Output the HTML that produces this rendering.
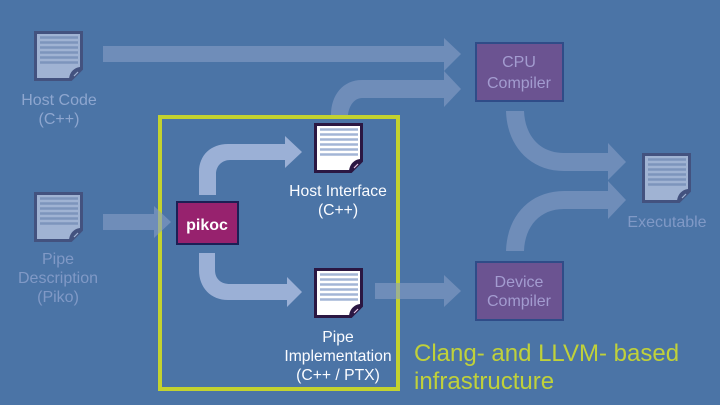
<!DOCTYPE html>
<html><head><meta charset="utf-8"><style>
html,body{margin:0;padding:0;background:#4b74a6;width:720px;height:405px;overflow:hidden}
svg{display:block}
text{font-family:"Liberation Sans",sans-serif;font-size:16px;text-anchor:middle}
.d{fill:#8ea6cf}.e{fill:#8099c6}.w{fill:#fbfcff;font-size:15.700px}.c{fill:#a39cd0}
</style></head><body>
<svg width="720" height="405" viewBox="0 0 720 405" xmlns="http://www.w3.org/2000/svg">
<defs>
<path id="lines" d="M6 6.500h38M6 11.500h38M6 16.500h38M6 21.500h38M6 26.500h38M6 31.500h38" stroke-width="2.600" fill="none"/>
</defs>
<rect width="720" height="405" fill="#4b74a6"/>

<!-- muted arrows -->
<g fill="#6f8db9">
<path d="M103 46H444V38L461 54L444 71V62H103Z"/>
<path d="M331 115C331 95 343 80 362 80H444V71L461 89L444 107V98H362C355 98 349 105 348 115Z"/>
<path d="M506 111H524C525 136 540 153 564 153H608V143L626 162L608 180V171H564C530 171 507 146 506 111Z"/>
<path d="M506 251H524C525 226 540 209 564 209H608V219L626 200L608 181V191H564C530 191 507 216 506 251Z"/>
</g>

<!-- frame -->
<rect x="160" y="117" width="238" height="272" fill="none" stroke="#c3d22f" stroke-width="4"/>

<g fill="#879ec6" fill-opacity=".6">
<path d="M103 214H154V206L171 222L154 238V230H103Z"/>
<path d="M375 283H444V275L461 291L444 307V299H375Z"/>
</g>

<!-- light arrows -->
<g fill="#9bb0d6">
<path d="M199 195V172C199 155 211 144 228 144H285V136L302 152L285 168V160H230C222 160 216 166 216 174V195Z"/>
<path d="M199 253H215V270C215 279 221 284 230 284H287V277L302 292L287 307V300H228C211 300 199 288 199 270Z"/>
</g>

<!-- muted documents -->
<g transform="translate(34,31)">
<path d="M1.500 1.500H47.500V38L37 48.500H1.500Z" fill="#a0b3d3" stroke="#43527f" stroke-width="3"/>
<use href="#lines" stroke="#7d95bc"/>
<path d="M37 48C37 42 41 38 47.500 38" fill="none" stroke="#43527f" stroke-width="3"/>
<path d="M37 49L48 38L47 36C41 36 35 41 35 49Z" fill="#43527f"/>
<path d="M40 45L44 41" stroke="#a0b3d3" stroke-width="1.200"/>
</g>
<g transform="translate(34,192)">
<path d="M1.500 1.500H47.500V38L37 48.500H1.500Z" fill="#a0b3d3" stroke="#43527f" stroke-width="3"/>
<use href="#lines" stroke="#7d95bc"/>
<path d="M37 49L48 38L47 36C41 36 35 41 35 49Z" fill="#43527f"/>
<path d="M40 45L44 41" stroke="#a0b3d3" stroke-width="1.200"/>
</g>
<g transform="translate(642,153)">
<path d="M1.500 1.500H47.500V38L37 48.500H1.500Z" fill="#a0b3d3" stroke="#43527f" stroke-width="3"/>
<use href="#lines" stroke="#7d95bc"/>
<path d="M37 49L48 38L47 36C41 36 35 41 35 49Z" fill="#43527f"/>
<path d="M40 45L44 41" stroke="#a0b3d3" stroke-width="1.200"/>
</g>

<!-- white documents -->
<g transform="translate(314,123)">
<path d="M1.500 1.500H47.500V38L37 48.500H1.500Z" fill="#fff" stroke="#2b1742" stroke-width="3"/>
<use href="#lines" stroke="#a3b5d6"/>
<path d="M37 49L48 38L47 36C41 36 35 41 35 49Z" fill="#2b1742"/>
<path d="M40 45L44 41" stroke="#e6c8e6" stroke-width="1.200"/>
</g>
<g transform="translate(314,268)">
<path d="M1.500 1.500H47.500V38L37 48.500H1.500Z" fill="#fff" stroke="#2b1742" stroke-width="3"/>
<use href="#lines" stroke="#a3b5d6"/>
<path d="M37 49L48 38L47 36C41 36 35 41 35 49Z" fill="#2b1742"/>
<path d="M40 45L44 41" stroke="#e6c8e6" stroke-width="1.200"/>
</g>

<!-- boxes -->
<rect x="177" y="202" width="61" height="42" fill="#97226e" stroke="#1c1f55" stroke-width="2"/>
<text x="207" y="230" style="font-size:16px;font-weight:bold;fill:#fff">pikoc</text>
<rect x="476" y="43" width="87" height="58" fill="#6b5391" stroke="#2f4c88" stroke-width="2"/>
<rect x="476" y="262" width="87" height="58" fill="#6b5391" stroke="#2f4c88" stroke-width="2"/>
<text x="519" y="67" class="c">CPU</text>
<text x="519" y="88" class="c">Compiler</text>
<text x="519" y="287" class="c">Device</text>
<text x="519" y="306" class="c">Compiler</text>

<!-- labels -->
<text x="59" y="105" class="d">Host Code</text>
<text x="59" y="124" class="d">(C++)</text>
<text x="58" y="264" class="e">Pipe</text>
<text x="58" y="283" class="e">Description</text>
<text x="58" y="302" class="e">(Piko)</text>
<text x="667" y="227" class="e">Executable</text>
<text x="338" y="196" class="w">Host Interface</text>
<text x="338" y="215" class="w">(C++)</text>
<text x="338" y="342" class="w">Pipe</text>
<text x="338" y="361" class="w">Implementation</text>
<text x="338" y="380" class="w">(C++ / PTX)</text>
<text x="414" y="361" style="font-size:24px;text-anchor:start;fill:#c0d13a">Clang- and LLVM- based</text>
<text x="414" y="389" style="font-size:24px;text-anchor:start;fill:#c0d13a">infrastructure</text>
</svg>
</body></html>
